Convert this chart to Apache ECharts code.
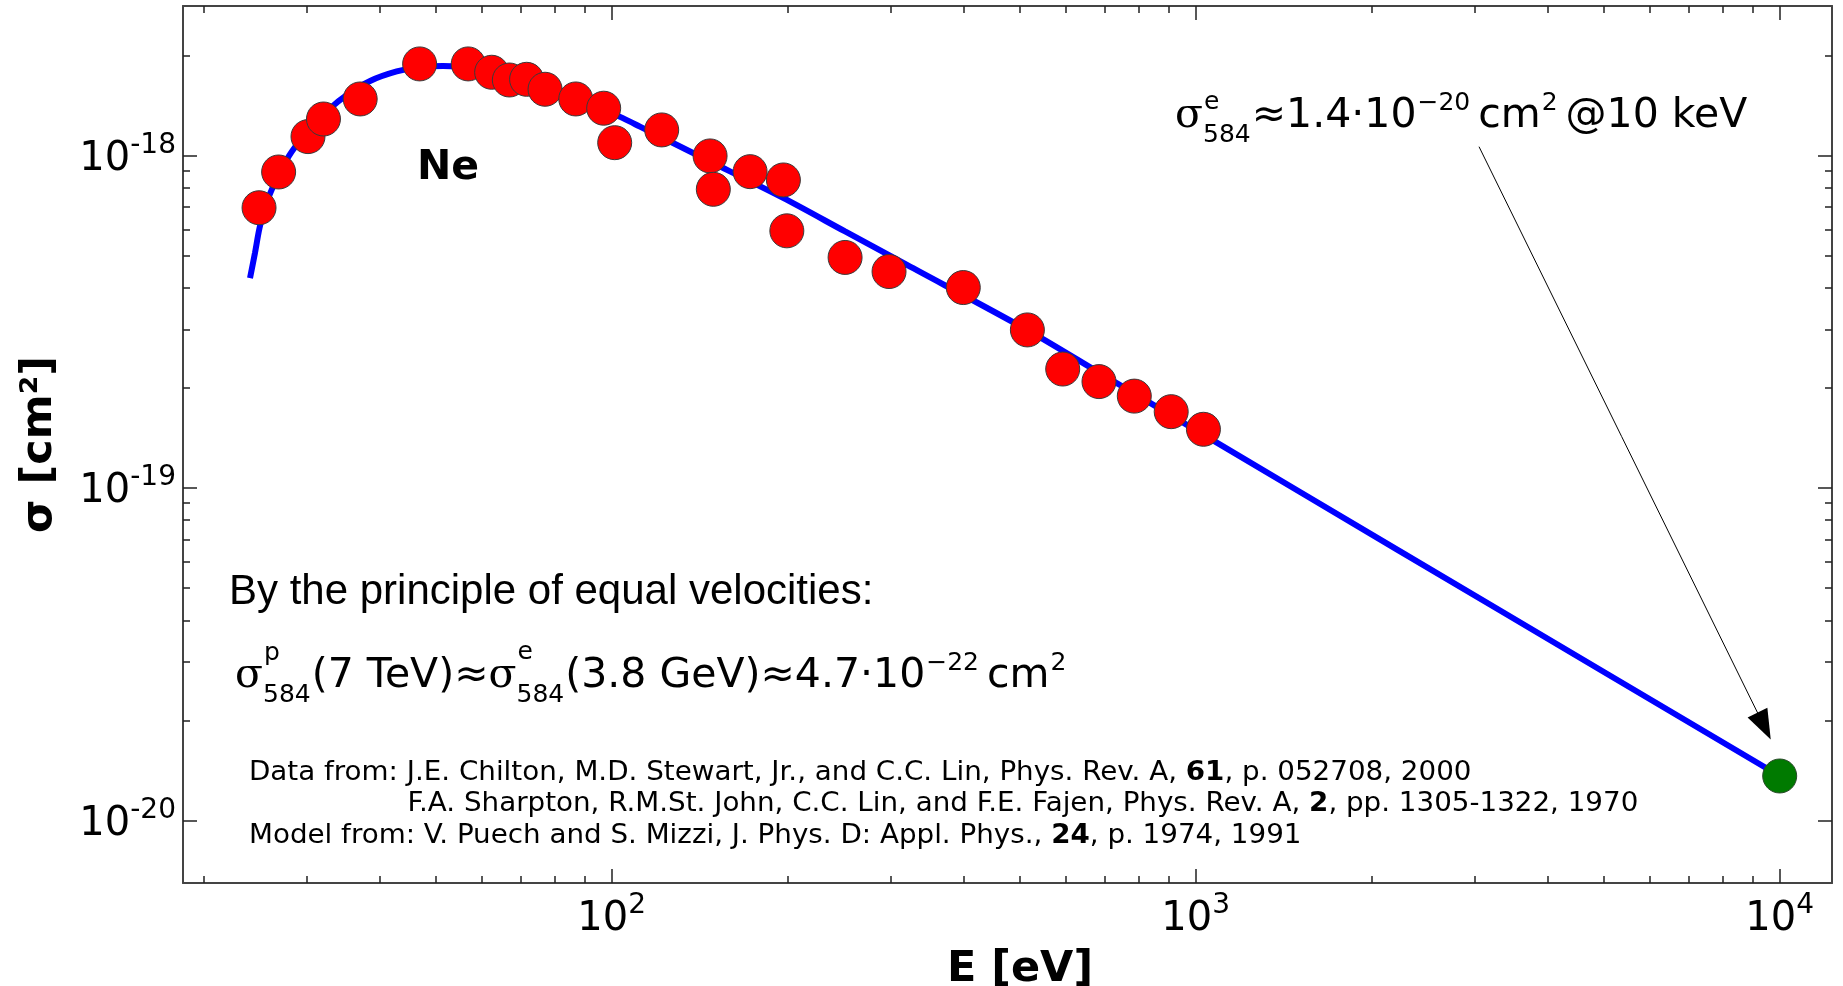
<!DOCTYPE html>
<html><head><meta charset="utf-8">
<script src="https://cdn.jsdelivr.net/npm/echarts@6/dist/echarts.min.js"></script>
<style>html,body{margin:0;padding:0;background:#fff}#c{width:1843px;height:986px}</style>
</head><body><div id="c"></div>
<script>
// ---- data (energy in eV, cross section in cm^2) ----
const dataE = [24.9, 26.9, 30.2, 32.1, 37.1, 46.9, 56.8, 62.3, 66.8, 71.5, 76.9, 86.8, 96.9, 101.2, 121.8, 147.4, 149.3, 172.6, 196.8, 199.5, 251, 298.5, 400, 515, 592, 683, 785, 908, 1031];
const dataSigma = [6.97e-19, 8.93e-19, 1.141e-18, 1.289e-18, 1.481e-18, 1.888e-18, 1.888e-18, 1.782e-18, 1.689e-18, 1.697e-18, 1.584e-18, 1.481e-18, 1.389e-18, 1.094e-18, 1.195e-18, 9.98e-19, 7.92e-19, 8.95e-19, 8.45e-19, 5.94e-19, 4.94e-19, 4.48e-19, 4.01e-19, 2.99e-19, 2.28e-19, 2.09e-19, 1.89e-19, 1.697e-19, 1.502e-19];
const modelE = [24.03, 24.51, 24.93, 25.50, 26.18, 27.05, 28.33, 30.06, 32.95, 35.19, 38.58, 42.85, 46.97, 51.49, 59.52, 69.69, 86.56, 103.4, 111.8, 145.7, 196.6, 251, 320.4, 514.4, 686.1, 1017, 2239, 4926, 10000];
const modelSigma = [4.28e-19, 5.11e-19, 6.02e-19, 7.02e-19, 7.90e-19, 8.95e-19, 1.028e-18, 1.178e-18, 1.387e-18, 1.523e-18, 1.678e-18, 1.792e-18, 1.849e-18, 1.862e-18, 1.823e-18, 1.724e-18, 1.502e-18, 1.308e-18, 1.223e-18, 9.70e-19, 7.46e-19, 5.914e-19, 4.69e-19, 2.99e-19, 2.214e-19, 1.468e-19, 6.45e-20, 2.84e-20, 1.36e-20];
const extrapE = [10000];
const extrapSigma = [1.36e-20];
const arrowFrom = [3056, 1.064e-18];
const arrowTo = [9404, 1.922e-20];

// ---- axes ----
const xRange = [18.45, 12290];
const yRange = [6.48e-21, 2.82e-18];
const xMajorTicks = [100, 1000, 10000];
const xMinorTicks = [20, 30, 40, 50, 60, 70, 80, 90, 200, 300, 400, 500, 600, 700, 800, 900, 2000, 3000, 4000, 5000, 6000, 7000, 8000, 9000];
const yMajorTicks = [1e-20, 1e-19, 1e-18];
const yMinorTicks = [7e-21, 8e-21, 9e-21, 2e-20, 3e-20, 4e-20, 5e-20, 6e-20, 7e-20, 8e-20, 9e-20, 2e-19, 3e-19, 4e-19, 5e-19, 6e-19, 7e-19, 8e-19, 9e-19, 2e-18];
const xTitle = 'E [eV]';
const yTitle = 'σ [cm²]';

const FONT = 'DejaVu Sans';
const tickLabelRich = {
  b: {fontFamily: FONT, fontSize: 40, lineHeight: 48, verticalAlign: 'bottom', color: '#000'},
  s: {fontFamily: FONT, fontSize: 28, lineHeight: 24, verticalAlign: 'top', color: '#000'}
};
const powLabel = v => '{b|10}{s|' + Math.round(Math.log10(v)) + '}';

function axisDef(position, ticks, len, labels, range) {
  return {
    type: 'log', logBase: 10, position: position, min: range[0], max: range[1],
    axisLine: {show: labels !== null, onZero: false, lineStyle: {color: '#444', width: 2}},
    axisTick: {show: true, inside: true, length: len, customValues: ticks, lineStyle: {color: '#222', width: 1.5}},
    axisLabel: labels ? {show: true, customValues: ticks, formatter: powLabel, rich: tickLabelRich, margin: labels} : {show: false},
    splitLine: {show: false}, minorTick: {show: false}, minorSplitLine: {show: false}
  };
}
const xAxes = [
  Object.assign(axisDef('bottom', xMajorTicks, 14, 9, xRange), {
    name: xTitle, nameLocation: 'middle', nameGap: 54,
    nameTextStyle: {fontFamily: FONT, fontSize: 43, fontWeight: 'bold', color: '#000', lineHeight: 50, padding: [0, 0, 0, 25]}
  }),
  axisDef('bottom', xMinorTicks, 7, null, xRange),
  axisDef('top', xMajorTicks, 14, false, xRange),
  axisDef('top', xMinorTicks, 7, null, xRange)
];
const yAxes = [
  Object.assign(axisDef('left', yMajorTicks, 14, 7, yRange), {
    name: yTitle, nameLocation: 'middle', nameGap: 118,
    nameTextStyle: {fontFamily: FONT, fontSize: 43, fontWeight: 'bold', color: '#000', lineHeight: 50}
  }),
  axisDef('left', yMinorTicks, 7, null, yRange),
  axisDef('right', yMajorTicks, 14, false, yRange),
  axisDef('right', yMinorTicks, 7, null, yRange)
];

// ---- annotation text layout ----
const ctx = document.createElement('canvas').getContext('2d');
const tw = (font, s) => { ctx.font = font; return ctx.measureText(s).width; };
const mainSize = 41, subSize = 25;
const mainFont = mainSize + 'px "DejaVu Sans"';
const serifFont = mainSize + 'px "DejaVu Serif"';
const subFont = subSize + 'px "DejaVu Sans"';
const sigW = tw(serifFont, 'σ');
const subW = tw(subFont, '584');
const mathRich = {
  s: {fontFamily: 'DejaVu Serif', fontSize: mainSize, lineHeight: 80, verticalAlign: 'middle', color: '#000'},
  m: {fontFamily: FONT, fontSize: mainSize, lineHeight: 80, verticalAlign: 'middle', color: '#000'},
  b: {fontFamily: FONT, fontSize: subSize, verticalAlign: 'middle', padding: [38, 1, 0, 0], color: '#000'},
  p: {fontFamily: FONT, fontSize: subSize, verticalAlign: 'middle', padding: [0, 8, 26, 1], color: '#000'}
};
const credRich = {
  n: {fontFamily: FONT, fontSize: 26, color: '#000'},
  b: {fontFamily: FONT, fontSize: 26, fontWeight: 'bold', color: '#000'}
};
const trX = 1175, trTop = 76;
const fmX = 235, fmTop = 636;
const fm2SigX = fmX + sigW + subW + 1 + tw(mainFont, '(7 TeV)≈');

function txt(x, y, text, extra, props) {
  return Object.assign({type: 'text', x: x, y: y, z: 100, silent: true,
    style: Object.assign({text: text, fill: '#000', align: 'left', verticalAlign: 'middle'}, extra)}, props || {});
}
const credScale = {scaleX: 1.067, scaleY: 1};
const graphics = [
  txt(417, 168, 'Ne', {fontFamily: FONT, fontSize: 41, fontWeight: 'bold'}),
  txt(trX, trTop, '{s|σ}{b|584}{m|≈1.4·10}{p|−20}{m|cm}{p|2}{m|@10 keV}', {verticalAlign: 'top', rich: mathRich, fontFamily: FONT, fontSize: mainSize}),
  txt(trX + sigW + 1, 102, 'e', {fontFamily: FONT, fontSize: subSize}),
  txt(229, 592, 'By the principle of equal velocities:', {fontFamily: 'Liberation Sans', fontSize: 42}),
  txt(fmX, fmTop, '{s|σ}{b|584}{m|(7 TeV)≈}{s|σ}{b|584}{m|(3.8 GeV)≈4.7·10}{p|−22}{m|cm}{p|2}', {verticalAlign: 'top', rich: mathRich, fontFamily: FONT, fontSize: mainSize}),
  txt(fmX + sigW + 1, 653, 'p', {fontFamily: FONT, fontSize: subSize}),
  txt(fm2SigX + sigW + 1, 652, 'e', {fontFamily: FONT, fontSize: subSize}),
  txt(249, 772.8, '{n|Data from: J.E. Chilton, M.D. Stewart, Jr., and C.C. Lin, Phys. Rev. A, }{b|61}{n|, p. 052708, 2000}', {rich: credRich, fontFamily: FONT, fontSize: 26}, credScale),
  txt(407.5, 804.6, '{n|F.A. Sharpton, R.M.St. John, C.C. Lin, and F.E. Fajen, Phys. Rev. A, }{b|2}{n|, pp. 1305-1322, 1970}', {rich: credRich, fontFamily: FONT, fontSize: 26}, credScale),
  txt(249, 836.2, '{n|Model from: V. Puech and S. Mizzi, J. Phys. D: Appl. Phys., }{b|24}{n|, p. 1974, 1991}', {rich: credRich, fontFamily: FONT, fontSize: 26}, credScale)
];

const zip = (a, b) => a.map((v, i) => [v, b[i]]);
const chart = echarts.init(document.getElementById('c'), null, {renderer: 'canvas'});
chart.setOption({
  animation: false,
  backgroundColor: '#fff',
  grid: {left: 183, right: 11, top: 6, bottom: 103, containLabel: false, outerBoundsMode: 'none'},
  xAxis: xAxes,
  yAxis: yAxes,
  graphic: graphics,
  series: [
    {type: 'line', name: 'model', xAxisIndex: 0, yAxisIndex: 0, data: zip(modelE, modelSigma),
     showSymbol: false, symbol: 'none', smooth: 0.3, z: 2,
     lineStyle: {color: '#0000ff', width: 6}},
    {type: 'scatter', name: 'data', xAxisIndex: 0, yAxisIndex: 0, data: zip(dataE, dataSigma),
     symbol: 'circle', symbolSize: 34, z: 3,
     itemStyle: {color: '#ff0000', borderColor: '#3a3a3a', borderWidth: 1, opacity: 1}},
    {type: 'scatter', name: '10 keV', xAxisIndex: 0, yAxisIndex: 0, data: zip(extrapE, extrapSigma),
     symbol: 'circle', symbolSize: 34, z: 4,
     itemStyle: {color: '#007a00', borderColor: '#2a4a2a', borderWidth: 1, opacity: 1},
     markLine: {silent: true, animation: false, label: {show: false},
       lineStyle: {color: '#000', width: 1, type: 'solid'},
       data: [[{coord: arrowFrom, symbol: 'none'}, {coord: arrowTo, symbol: 'triangle', symbolSize: [22, 30]}]]}}
  ]
});
</script></body></html>
